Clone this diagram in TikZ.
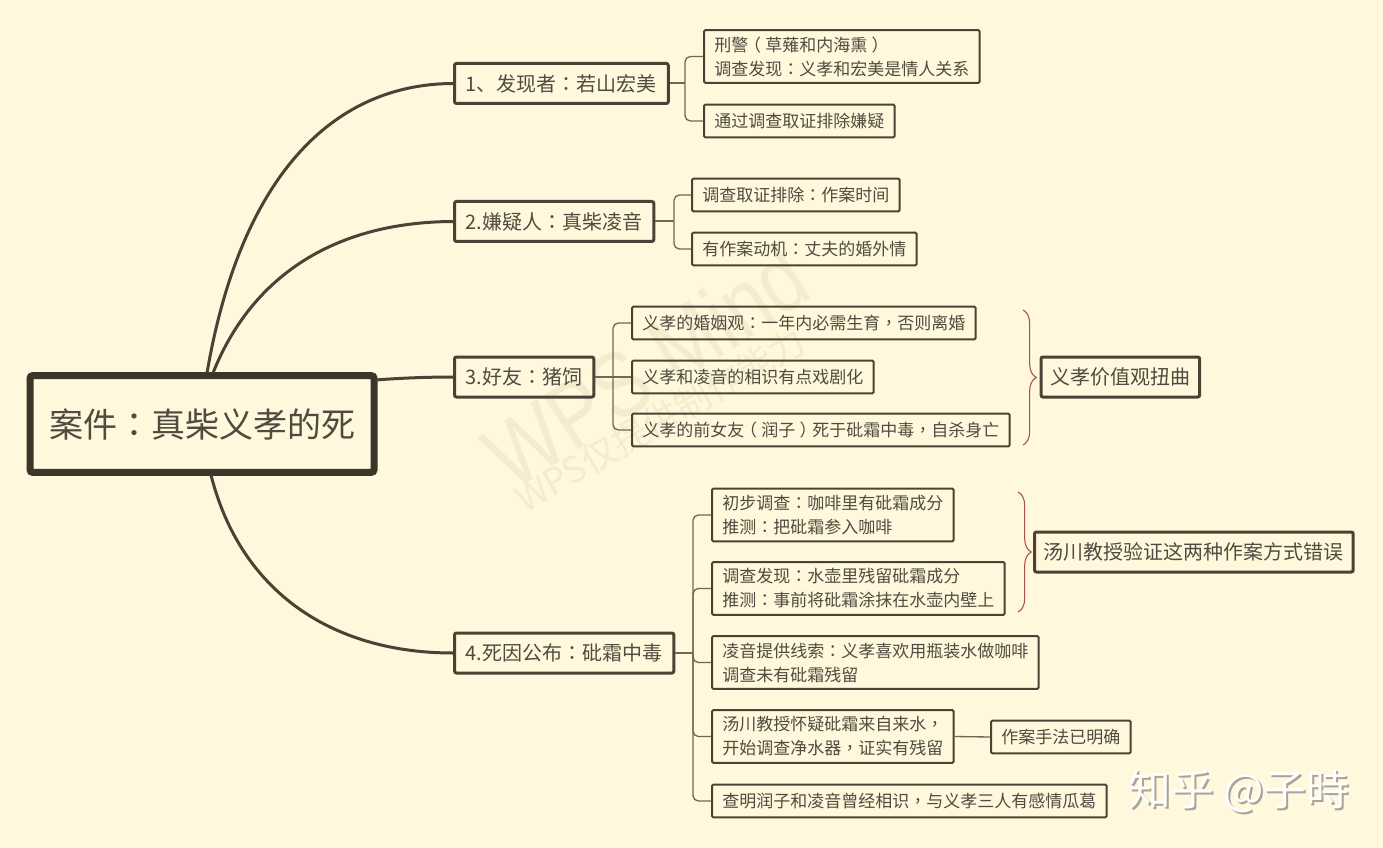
\documentclass[tikz,border=0pt]{standalone}
\usepackage{fontspec}
\setmainfont{Noto Sans CJK SC}
\newfontfamily\puncfont{Noto Sans CJK TC}
\newfontfamily\latinfont{Liberation Sans}
\usetikzlibrary{positioning,decorations.pathreplacing}
\definecolor{paper}{HTML}{FFF8DC}
\definecolor{ink}{HTML}{504B40}
\definecolor{edgeline}{HTML}{4A4335}
\definecolor{stemline}{HTML}{6E6855}
\definecolor{bracered}{HTML}{A8504A}
\definecolor{markcolor}{HTML}{F3ECCE}
\catcode`：=\active \def：{{\puncfont\char"FF1A}}
\catcode`，=\active \def，{{\puncfont\char"FF0C}}
\catcode`（=\active \def（{\kern-.25em{\puncfont\char"FF08}\kern.25em}
\catcode`）=\active \def）{\kern.25em{\puncfont\char"FF09}\kern-.25em}

\begin{document}
\begin{tikzpicture}[x=.75pt,y=-.75pt]
  \tikzset{
    casebox/.style={draw=edgeline!80!black,line width=5.25pt,rounded corners=2pt,text=ink,inner xsep=14.25pt,minimum height=72.5pt,font=\fontsize{25.5}{30}\selectfont},
    branch/.style={draw=edgeline,line width=2.25pt,rounded corners=1.5pt,text=ink,anchor=west,inner xsep=8.5pt,minimum height=30pt,font=\fontsize{15}{18}\selectfont},
    valuebox/.style={branch,inner xsep=7pt},
    leaf/.style={draw=edgeline,line width=1.5pt,rounded corners=1pt,text=ink,anchor=west,align=left,inner xsep=7.75pt,inner ysep=3pt,minimum height=24.5pt,font=\fontsize{12.75}{18}\selectfont},
    tallleaf/.style={leaf,minimum height=39.5pt},
    curve/.style={draw=edgeline,line width=2.25pt},
    stem/.style={draw=stemline,line width=1pt,rounded corners=4pt},
    hubline/.style={draw=stemline,line width=1.5pt},
    bracket/.style={draw=bracered,line width=.8pt,decorate,decoration={brace,amplitude=10pt}},
    wmark/.style={text=markcolor,rotate=33}
  }
  \fill[paper] (0,0) rectangle (1383,848);
  \useasboundingbox (0,0) rectangle (1383,848);

  \node[wmark,font=\latinfont\fontsize{70}{72}\selectfont] (mark1) at (646,366) {\scalebox{.82}[1]{WPS Mind}};
  \node[wmark,rotate=-3,font=\fontsize{27}{30}\selectfont] (mark2) at (660,420) {WPS仅提供制作能力};

  \node[casebox] (case) at (202,424) {案件：真柴义孝的死};

  \node[branch] (b1) at (453,83.5) {1、发现者：若山宏美};
  \node[branch] (b2) at (453,221.5) {2.嫌疑人：真柴凌音};
  \node[branch] (b3) at (453,377) {3.好友：猪饲};
  \node[branch] (b4) at (453,653) {4.死因公布：砒霜中毒};

  \node[tallleaf] (l11) at (703,56.5) {刑警（草薙和内海熏）\\调查发现：义孝和宏美是情人关系};
  \node[leaf] (l12) at (703,121) {通过调查取证排除嫌疑};
  \node[leaf] (l21) at (691,195) {调查取证排除：作案时间};
  \node[leaf] (l22) at (691,249) {有作案动机：丈夫的婚外情};
  \node[leaf] (l31) at (631,323) {义孝的婚姻观：一年内必需生育，否则离婚};
  \node[leaf] (l32) at (631,377) {义孝和凌音的相识有点戏剧化};
  \node[leaf] (l33) at (631,430) {义孝的前女友（润子）死于砒霜中毒，自杀身亡};
  \node[tallleaf] (l41) at (711,515) {初步调查：咖啡里有砒霜成分\\推测：把砒霜参入咖啡};
  \node[tallleaf] (l42) at (711,588.5) {调查发现：水壶里残留砒霜成分\\推测：事前将砒霜涂抹在水壶内壁上};
  \node[tallleaf] (l43) at (711,662.5) {凌音提供线索：义孝喜欢用瓶装水做咖啡\\调查未有砒霜残留};
  \node[tallleaf] (l44) at (711,736.5) {汤川教授怀疑砒霜来自来水，\\开始调查净水器，证实有残留};
  \node[leaf] (l45) at (711,801) {查明润子和凌音曾经相识，与义孝三人有感情瓜葛};
  \node[leaf] (l46) at (990,737) {作案手法已明确};

  \node[valuebox] (v1) at (1039.5,377) {义孝价值观扭曲};
  \node[valuebox] (v2) at (1033,552) {汤川教授验证这两种作案方式错误};

  \coordinate (c1) at (207,373);
  \coordinate (c2) at (213,373);
  \coordinate (c3) at (376,380);
  \coordinate (c4) at (211,475);
  \coordinate (h1) at (685,83.5);
  \coordinate (h2) at (674,221.5);
  \coordinate (h3) at (613,377);
  \coordinate (h4) at (693,653);
  \coordinate (t1) at (1023,310);
  \coordinate (t2) at (1023,445);
  \coordinate (t3) at (1018,492);
  \coordinate (t4) at (1018,612);

  \draw[curve] (c1) .. controls (240,180) and (330,84) .. (b1.west);
  \draw[curve] (c2) .. controls (250,280) and (330,222) .. (b2.west);
  \draw[curve] (c3) .. controls (400,378) and (430,377) .. (b3.west);
  \draw[curve] (c4) .. controls (240,590) and (330,653) .. (b4.west);

  \draw[hubline] (b1.east) -- (h1);
  \draw[hubline] (b2.east) -- (h2);
  \draw[hubline] (b3.east) -- (h3);
  \draw[hubline] (b4.east) -- (h4);

  \draw[stem] (h1) |- (l11.west);
  \draw[stem] (h1) |- (l12.west);
  \draw[stem] (h2) |- (l21.west);
  \draw[stem] (h2) |- (l22.west);
  \draw[stem] (h3) |- (l31.west);
  \draw[stem] (h3) -- (l32.west);
  \draw[stem] (h3) |- (l33.west);
  \draw[stem] (h4) |- (l41.west);
  \draw[stem] (h4) |- (l42.west);
  \draw[stem] (h4) |- (l43.west);
  \draw[stem] (h4) |- (l44.west);
  \draw[stem] (h4) |- (l45.west);
  \draw[stem] (l44.east) -- (l46.west);

  \draw[bracket] (t1) -- (t2);
  \draw[bracket] (t3) -- (t4);

  \node[text=gray!70!paper,font=\fontsize{32}{34}\selectfont] (zh1) at (1241,793) {知乎 @子時};
  \node[text=white!80!paper,font=\fontsize{32}{34}\selectfont] (zh2) at (1239,791) {知乎 @子時};
\end{tikzpicture}
\end{document}
